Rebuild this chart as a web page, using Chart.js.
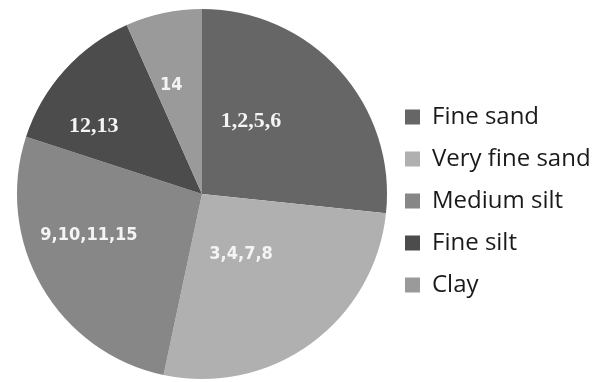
<!DOCTYPE html>
<html>
<head>
<meta charset="utf-8">
<script src="https://cdn.jsdelivr.net/npm/chart.js@4.4.0/dist/chart.umd.min.js"></script>
<style>
html,body{margin:0;padding:0;background:#fff;}
#wrap{width:601px;height:382px;position:relative;}
</style>
</head>
<body>
<div id="wrap"><canvas id="c" width="601" height="382"></canvas></div>
<script>
// ---- data ----
const categories = ['Fine sand', 'Very fine sand', 'Medium silt', 'Fine silt', 'Clay'];
const sampleCounts = [4, 4, 4, 2, 1];
const sliceLabels = ['1,2,5,6', '3,4,7,8', '9,10,11,15', '12,13', '14'];

// ---- styles ----
const colors = ['#666666', '#b0b0b0', '#878787', '#4c4c4c', '#9a9a9a'];
const labelFonts = [
  'bold 22px "Liberation Serif"',
  'bold 18px "DejaVu Sans Condensed", "DejaVu Sans"',
  'bold 18px "DejaVu Sans Condensed", "DejaVu Sans"',
  'bold 22px "Liberation Serif"',
  'bold 18px "DejaVu Sans Condensed", "DejaVu Sans"'
];
// label placement inside each slice: fraction along slice angle, fraction of radius
const labelAngleFrac = [0.353, 0.53, 0.605, 0.29, 0.34];
const labelRadiusFrac = [0.476, 0.387, 0.65, 0.69, 0.61];

const legendFontSize = 24;
const legendFont = '"Open Sans"';
const legendBox = 15;
const legendPad = 18;
const pieRight = 387;

const sliceLabelPlugin = {
  id: 'sliceLabels',
  afterDatasetsDraw(chart) {
    const ctx = chart.ctx;
    const meta = chart.getDatasetMeta(0);
    ctx.save();
    ctx.textAlign = 'center';
    ctx.textBaseline = 'middle';
    ctx.fillStyle = '#f4f4f4';
    meta.data.forEach((arc, i) => {
      const p = arc.getProps(['x', 'y', 'startAngle', 'endAngle', 'outerRadius'], true);
      const a = p.startAngle + (p.endAngle - p.startAngle) * labelAngleFrac[i];
      const r = p.outerRadius * labelRadiusFrac[i];
      ctx.font = labelFonts[i];
      ctx.fillText(sliceLabels[i], p.x + Math.cos(a) * r, p.y + Math.sin(a) * r);
    });
    ctx.restore();
  }
};

const chart = new Chart(document.getElementById('c'), {
  type: 'pie',
  data: {
    labels: categories,
    datasets: [{
      data: sampleCounts,
      backgroundColor: colors,
      borderWidth: 0,
      offset: 0,
      hoverOffset: 0
    }]
  },
  options: {
    responsive: false,
    animation: false,
    layout: { padding: { left: 17, top: 9, bottom: 3, right: 10 } },
    plugins: {
      tooltip: { enabled: false },
      legend: {
        position: 'right',
        title: { display: true, text: ' ', padding: 0, font: { size: 8, lineHeight: 1.75 } },
        labels: {
          boxWidth: legendBox,
          boxHeight: legendBox,
          padding: legendPad,
          color: '#1a1a1a',
          font: { family: legendFont, size: legendFontSize }
        }
      }
    }
  },
  plugins: [sliceLabelPlugin]
});
// align the pie area's right edge
const d = chart.chartArea.right - pieRight;
chart.options.layout.padding.right = Math.max(0, 10 + d);
chart.update();
</script>
</body>
</html>
